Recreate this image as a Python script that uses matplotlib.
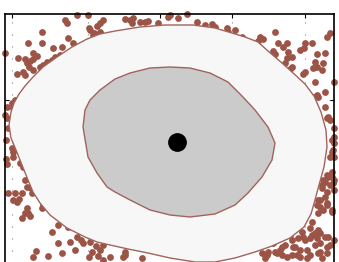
import numpy as np
import matplotlib.pyplot as plt
from matplotlib.patches import Polygon

# outliers (x, y) -- y axis runs downward
pts_x = [77, 88, 65, 67, 42, 103, 100, 97, 90, 94, 100, 89, 93, 68, 42, 28, 73, 5, 53, 62,
         60, 55, 52, 47, 43, 40, 33, 37, 33, 30, 25, 27, 29, 18, 33, 23, 25, 17,
         15, 12, 7, 13, 5, 7, 8, 6, 12, 13, 6, 7, 13, 20, 23, 25, 27, 31, 32, 8, 15, 22,
         13, 17, 19, 27, 25, 30, 22, 28, 42, 43,
         52, 58, 68, 58, 70, 77, 81, 83, 90, 96, 100, 92, 89, 62, 48, 36, 33, 103, 75, 98,
         103, 110, 125, 123, 125, 142,
         125, 130, 133, 132, 140, 145, 148, 158, 168, 170, 178, 187, 197, 205, 212, 215, 227, 228,
         235, 242, 260, 263, 258, 275, 278, 287, 283, 273, 275, 288, 287, 292, 285, 292, 290,
         305, 304, 300, 312, 315, 317, 323, 313, 322, 317, 325, 330, 327, 305, 303, 315, 334,
         317, 318, 313, 325, 325, 328, 327, 330, 334, 334, 332, 334, 333, 332, 330, 334, 332,
         327, 332, 328, 333, 325, 323, 334, 322, 330, 334, 327, 322, 325, 320, 318, 317, 320,
         327, 327, 332, 332, 323, 318,
         312, 310, 318, 315, 312, 320, 317, 310, 302, 303, 305, 298, 292, 320, 328, 325, 334,
         327, 315, 307, 300, 320, 327, 310, 295, 282, 280, 282, 287, 275, 268, 262, 265, 300,
         285, 273, 290, 293, 292, 307, 322, 267, 277, 297, 318, 330]
pts_y = [15, 15, 20, 23, 32, 20, 23, 26, 30, 33, 32, 28, 35, 38, 43, 43, 43, 53, 48, 47,
         55, 57, 60, 62, 65, 67, 53, 56, 59, 61, 59, 63, 67, 58, 70, 72, 75, 74,
         100, 103, 107, 108, 115, 118, 128, 140, 148, 152, 159, 164, 157, 163, 167, 180, 187, 188, 193, 193, 193, 193,
         200, 202, 199, 208, 213, 216, 218, 213, 208, 205,
         232, 225, 227, 243, 242, 237, 240, 243, 242, 246, 250, 252, 257, 253, 256, 251, 257, 245, 250, 256,
         260, 257, 255, 257, 252, 258,
         19, 20, 18, 23, 22, 22, 21, 23, 17, 15, 18, 14, 22, 25, 24, 27, 28, 32,
         30, 37, 37, 39, 41, 32, 43, 43, 47, 51, 54, 52, 58, 57, 63, 67, 69,
         43, 48, 50, 43, 62, 67, 63, 68, 70, 54, 53, 33, 37, 72, 74, 82, 82,
         95, 97, 97, 92, 107, 117, 118, 120, 128, 137, 140, 143, 150, 152, 157, 157, 172,
         175, 177, 177, 183, 182, 180, 180, 185, 185, 190, 192, 188, 197, 200, 200, 205, 207,
         203, 205, 210, 212, 210, 213,
         222, 228, 230, 233, 235, 233, 238, 238, 232, 237, 240, 238, 240, 243, 237, 237, 240,
         247, 245, 250, 250, 252, 253, 255, 247, 247, 250, 255, 257, 252, 252, 253, 258, 257,
         245, 243, 235, 247, 255, 258, 258, 255, 253, 255, 253, 245]

# outer region outline
outer_x = [9, 11, 14, 19, 25, 33, 43, 57, 72, 87, 100, 115, 140, 165, 193, 215, 232, 245, 258, 268,
           282, 292, 305, 314, 321, 326, 327, 324, 319, 315, 311, 304, 290, 272, 255, 235, 215, 195,
           170, 148, 128, 110, 97, 85, 67, 50, 40, 33, 28, 22, 16, 11]
outer_y = [125, 112, 103, 94, 86, 77, 67, 57, 47, 39, 34, 31, 27, 25, 25, 28, 33, 37, 42, 51,
           63, 72, 84, 96, 112, 130, 147, 167, 185, 200, 214, 227, 238, 246, 252, 258, 262, 262,
           258, 253, 249, 245, 242, 237, 228, 215, 203, 192, 180, 165, 150, 138]

# inner region outline
inner_x = [83, 85, 90, 100, 115, 130, 150, 170, 190, 210, 228, 242, 255, 268, 275, 272, 262, 248,
           235, 215, 190, 170, 150, 130, 115, 107, 97, 88]
inner_y = [127, 110, 100, 90, 79, 73, 68, 67, 68, 73, 82, 96, 110, 127, 143, 160, 177, 193,
           205, 214, 217, 215, 210, 200, 192, 187, 173, 157]

center_x = [177]
center_y = [142]

x_ticks = [12, 88, 160, 232, 305]
y_ticks = [100]

brown = '#9c5447'

fig = plt.figure(figsize=(3.39, 2.62), dpi=100)
ax = fig.add_axes([5 / 339, -13 / 262, 329 / 339, 261 / 262])
ax.set_xlim(5, 334)
ax.set_ylim(275, 14)

ax.set_xticks(x_ticks)
ax.set_yticks(y_ticks)
ax.tick_params(direction='in', top=True, right=True, length=3, width=0.8,
               labelbottom=False, labelleft=False)
ax.grid(True, color='#888888', linewidth=0.8, linestyle=(0, (1, 9.8)), zorder=0)
ax.set_axisbelow(True)
for s in ax.spines.values():
    s.set_linewidth(1.2)

ax.scatter(pts_x, pts_y, s=24, color=brown, zorder=2, clip_on=False, linewidths=0)
ax.add_patch(Polygon(np.column_stack([outer_x, outer_y]), closed=True,
                     facecolor='#f7f7f7', edgecolor='#a0645a', linewidth=1.0, zorder=3))
ax.add_patch(Polygon(np.column_stack([inner_x, inner_y]), closed=True,
                     facecolor='#cbcbcb', edgecolor='#a0645a', linewidth=1.0, zorder=4))
ax.plot(center_x, center_y, 'o', color='black', markersize=12.5, zorder=5)

fig.savefig('out.png', dpi=100)
